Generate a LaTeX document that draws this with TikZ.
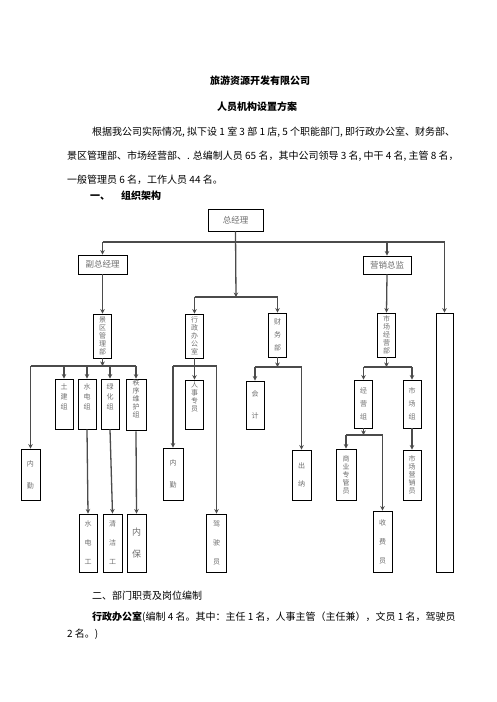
\documentclass[tikz,border=0pt]{standalone}
\usepackage{fontspec}
\setmainfont{Noto Sans CJK SC}
\usetikzlibrary{arrows.meta}
\definecolor{linegray}{RGB}{75,75,75}
\definecolor{textgray}{RGB}{110,110,110}

\tikzset{
  box/.style={draw, line width=0.9pt, inner sep=1pt, align=center,
    text=textgray, font=\fontsize{7}{8}\selectfont},
  hbox/.style={box, font=\fontsize{8.5}{10}\selectfont},
  col/.style={box, minimum width=18pt},
  conn/.style={line width=1.3pt, draw=linegray},
  arr/.style={conn, -{Stealth[length=4.5pt,width=4.5pt]}},
  body/.style={anchor=base west, inner sep=0pt, font=\fontsize{10}{12}\selectfont}
}

\begin{document}
\begin{tikzpicture}[x=1pt,y=-1pt]

% Page
\useasboundingbox (0,0) rectangle (496,702);

% Title
\node[body, anchor=base, font=\fontsize{10}{12}\selectfont\bfseries] (title) at (260,84) {旅游资源开发有限公司};
\node[body, anchor=base, font=\fontsize{10}{12}\selectfont\bfseries] (subtitle) at (257,110) {人员机构设置方案};

% Text
\node[body] (p1) at (92,135) {根据我公司实际情况, 拟下设 1 室 3 部 1 店, 5 个职能部门, 即行政办公室、财务部、};
\node[body] (p2) at (67,159) {景区管理部、市场经营部、. 总编制人员 65 名，其中公司领导 3 名, 中干 4 名, 主管 8 名，};
\node[body] (p3) at (67,183) {一般管理员 6 名，工作人员 44 名。};
\node[body, font=\fontsize{10}{12}\selectfont\bfseries] (sec1) at (90,199) {一、};
\node[body, font=\fontsize{10}{12}\selectfont\bfseries] (sec1t) at (121,199) {组织架构};

% Level 1 and 2
\node[hbox, minimum width=55pt, minimum height=22pt] (gm) at (235.5,220) {总经理};
\node[hbox, minimum width=49pt, minimum height=19pt] (vgm) at (102.5,264.5) {副总经理};
\node[hbox, minimum width=48pt, minimum height=18pt] (smd) at (387,265) {营销总监};
\node[box, minimum width=17pt, minimum height=259pt] (big) at (444.5,442.5) {};

% Departments
\node[col, minimum height=44pt] (jq) at (102.5,336) {景\\区\\管\\理\\部};
\node[col, minimum height=44pt] (xz) at (194.5,336) {行\\政\\办\\公\\室};
\node[col, minimum height=44pt] (cw) at (277.5,335) {财\\[5pt]务\\[5pt]部};
\node[col, minimum height=44pt] (sc) at (386.5,335) {市\\场\\经\\营\\部};

% Groups
\node[col, minimum height=50pt] (tj) at (64,404) {土\\[2pt]建\\[2pt]组\\[6pt]};
\node[col, minimum height=50pt] (sd) at (87,404) {水\\[2pt]电\\[2pt]组\\[6pt]};
\node[col, minimum height=50pt] (lh) at (110,404) {绿\\[2pt]化\\[2pt]组\\[6pt]};
\node[col, minimum height=46pt, minimum width=20pt] (zx) at (136,405) {秩\\序\\维\\护\\组\\[4pt]};
\node[col, minimum height=49pt] (rs) at (194.5,404.5) {人\\事\\专\\员\\[8pt]};
\node[col, minimum height=48pt] (kj) at (255,405) {会\\[14pt]计};
\node[col, minimum height=48pt] (jy) at (363.5,404) {经\\[5pt]营\\[5pt]组};
\node[col, minimum height=48pt] (scz) at (412,404) {市\\[5pt]场\\[5pt]组};

% Staff
\node[col, minimum height=51pt, minimum width=19pt] (nq1) at (30.5,474.5) {内\\[14pt]勤};
\node[col, minimum height=52pt, minimum width=20pt] (nq2) at (173,474) {内\\[14pt]勤};
\node[col, minimum height=50pt, minimum width=19pt] (cn) at (301.5,475) {出\\[10pt]纳};
\node[col, minimum height=51pt, minimum width=20pt] (sy) at (346,474.5) {商\\业\\专\\管\\员};
\node[col, minimum height=50pt] (yx) at (412,475) {市\\场\\营\\销\\员};
\node[col, minimum height=58pt] (sdg) at (88,543) {水\\[11pt]电\\[11pt]工};
\node[col, minimum height=58pt, minimum width=19pt] (qj) at (112.5,543) {清\\[11pt]洁\\[11pt]工};
\node[col, minimum height=58pt, minimum width=19pt, font=\fontsize{9}{10}\selectfont] (nb) at (136.5,543) {内\\[12pt]保};
\node[col, minimum height=58pt, minimum width=20pt] (js) at (216.5,543) {驾\\[11pt]驶\\[11pt]员};
\node[col, minimum height=61pt, minimum width=19pt] (sf) at (382.5,541.5) {收\\[11pt]费\\[11pt]员};

% Junctions
\coordinate (topbar) at (236,242);
\coordinate (midbar) at (236,297);
\coordinate (jqbar) at (102.5,366);
\coordinate (xzbar) at (194.5,366);
\coordinate (cwbar) at (277.5,367);
\coordinate (scbar) at (386.5,367);
\coordinate (jybar) at (363.5,435);

% Top connectors
\draw[conn] (vgm.north |- topbar) -- (big.north |- topbar);
\draw[arr] (gm.south) -- (midbar);
\foreach \n in {vgm,smd,big}
  \draw[arr] (\n.north |- topbar) -- (\n.north);
\draw[conn] (xz.north |- midbar) -- (cw.north |- midbar);
\foreach \n in {xz,cw}
  \draw[arr] (\n.north |- midbar) -- (\n.north);
\draw[arr] (vgm.south) -- (jq.north);
\draw[arr] (smd.south) -- (sc.north);

% Scenic area
\draw[arr] (jq.south) -- (jqbar);
\draw[conn] (nq1.north |- jqbar) -- (zx.north |- jqbar);
\foreach \n in {nq1,tj,sd,lh,zx}
  \draw[arr] (\n.north |- jqbar) -- (\n.north);
\draw[arr] (sd.south) -- (sdg.north);
\draw[arr] (lh.south) -- (qj.north);
\draw[arr] (zx.south) -- (nb.north);

% Office
\draw[arr] (xz.south) -- (rs.north);
\draw[conn] (nq2.north |- xzbar) -- (js.north |- xzbar);
\foreach \n in {nq2,js}
  \draw[arr] (\n.north |- xzbar) -- (\n.north);

% Finance
\draw[arr] (cw.south) -- (cwbar);
\draw[conn] (kj.north |- cwbar) -- (cn.north |- cwbar);
\foreach \n in {kj,cn}
  \draw[arr] (\n.north |- cwbar) -- (\n.north);

% Marketing
\draw[arr] (sc.south) -- (scbar);
\draw[conn] (jy.north |- scbar) -- (scz.north |- scbar);
\foreach \n in {jy,scz}
  \draw[arr] (\n.north |- scbar) -- (\n.north);
\draw[arr] (jy.south) -- (jybar);
\draw[conn] (sy.north |- jybar) -- (sf.north |- jybar);
\foreach \n in {sy,sf}
  \draw[arr] (\n.north |- jybar) -- (\n.north);
\draw[arr] (scz.south) -- (yx.north);

% Section two
\node[body] (sec2) at (92,599) {二、部门职责及岗位编制};
\node[body] (q1) at (92,620) {\textbf{行政办公室}(编制 4 名。其中：主任 1 名，人事主管（主任兼），文员 1 名，驾驶员};
\node[body] (q2) at (67,637) {2 名。)};

\end{tikzpicture}
\end{document}
